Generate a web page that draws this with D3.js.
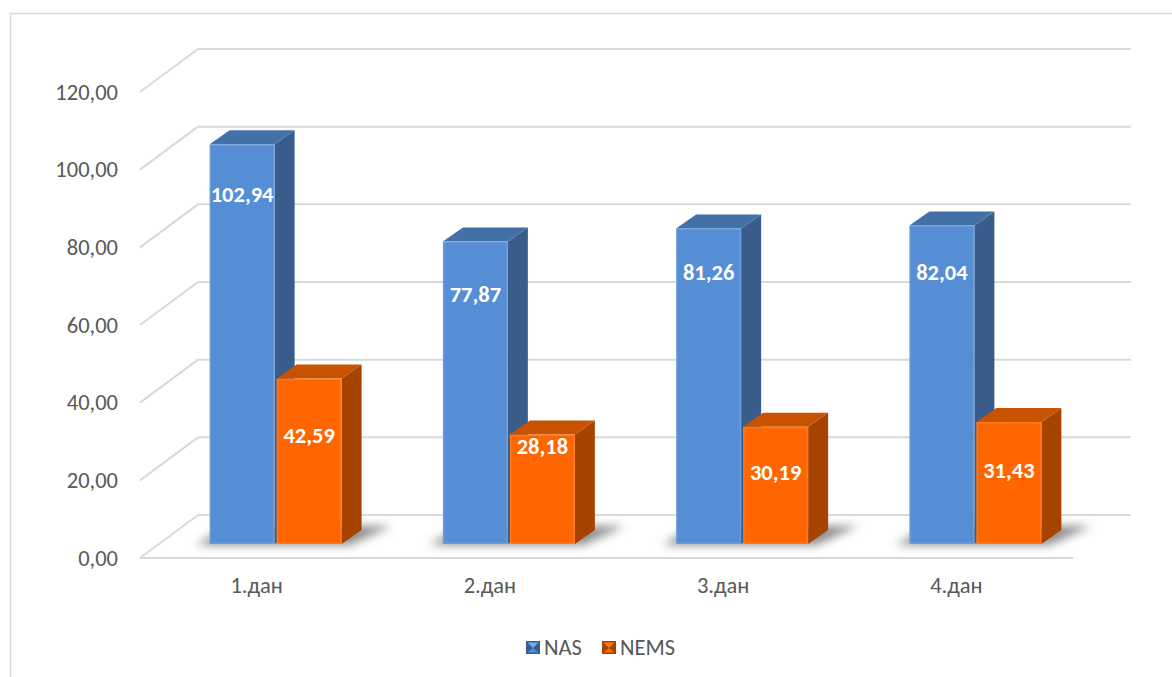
<!DOCTYPE html>
<html>
<head>
<meta charset="utf-8">
<script src="https://cdn.jsdelivr.net/npm/d3@7"></script>
<style>
  html, body { margin: 0; padding: 0; background: #fff; }
  svg { display: block; font-family: Calibri, Carlito, Lato, sans-serif; }
</style>
</head>
<body>
<svg id="chart" width="1172" height="677"></svg>
<script>
// ---- data ----
const categories = ["1.дан", "2.дан", "3.дан", "4.дан"];
const seriesNames = ["NAS", "NEMS"];
const nasValues  = [102.94, 77.87, 81.26, 82.04];
const nemsValues = [42.59, 28.18, 30.19, 31.43];
const yTicks = [0, 20, 40, 60, 80, 100, 120];

// ---- layout ----
const W = 1172, H = 677;
const fontFamily = "Calibri, Carlito, Lato, sans-serif";
const fontSize = 22.5;
const floorLeft = 140, floorRight = 1073;
const wallDepth = { dx: 58, dy: -43 };   // front edge -> back wall
const barPlane  = { dx: 19, dy: -14 };   // front edge -> bar front faces
const barDepth  = { dx: 20, dy: -14 };   // bar front face -> bar back face
const barW = 65, barGap = 2;
// vertical nudge of each value label below the bar's front top edge
const labelDrop = [[50, 57], [53, 12], [44, 46], [47, 49]];

const colors = {
  NAS:  { front: "#558ed5", side: "#385d8a", top: "#4470a8" },
  NEMS: { front: "#ff6600", side: "#a64300", top: "#c85200" }
};
const gridColor = "#d9d9d9";
const textColor = "#595959";

const svg = d3.select("#chart");
const fmt = d3.formatLocale({ decimal: ",", thousands: ".", grouping: [3], currency: ["", ""] }).format(".2f");

// chart area border
svg.append("rect")
  .attr("x", 10.5).attr("y", 13.5)
  .attr("width", W + 20).attr("height", H + 20)
  .attr("fill", "#fff").attr("stroke", gridColor).attr("stroke-width", 1.5);

// scales
const y = d3.scaleLinear().domain([0, 120]).range([558, 92]);
const x = d3.scaleBand().domain(categories).range([floorLeft, floorRight]);
const pairW = 2 * barW + barGap;
const xs = d3.scaleBand().domain(seriesNames).range([0, pairW]).paddingInner(barGap / (barW + barGap));
const pairLeft = c => x(c) + (x.bandwidth() - pairW) / 2 + barPlane.dx;

// ---- walls & floor ----
const walls = svg.append("g").attr("fill", "none").attr("stroke", gridColor).attr("stroke-width", 2);
yTicks.forEach(v => {
  const yf = y(v), yb = y(v) + wallDepth.dy;
  // side wall diagonal
  walls.append("line")
    .attr("x1", floorLeft).attr("y1", yf)
    .attr("x2", floorLeft + wallDepth.dx).attr("y2", yb);
  // back wall line
  walls.append("line")
    .attr("x1", floorLeft + wallDepth.dx).attr("y1", yb)
    .attr("x2", floorRight + wallDepth.dx).attr("y2", yb);
});
// floor front edge
walls.append("line")
  .attr("x1", floorLeft).attr("y1", y(0))
  .attr("x2", floorRight).attr("y2", y(0));

// ---- y axis labels ----
const yAxis = d3.axisLeft(y).tickValues(yTicks).tickFormat(fmt).tickSize(0).tickPadding(22);
svg.append("g")
  .attr("transform", `translate(${floorLeft},0)`)
  .call(yAxis)
  .call(g => g.select(".domain").remove())
  .call(g => g.selectAll("text")
    .attr("fill", textColor).attr("font-size", fontSize)
    .attr("font-family", fontFamily));

// ---- x axis labels ----
const xAxis = d3.axisBottom(x).tickSize(0).tickPadding(19);
svg.append("g")
  .attr("transform", `translate(0,${y(0)})`)
  .call(xAxis)
  .call(g => g.select(".domain").remove())
  .call(g => g.selectAll("text")
    .attr("fill", textColor).attr("font-size", fontSize)
    .attr("font-family", fontFamily));

// ---- shadows on the floor ----
const defs = svg.append("defs");
defs.append("filter").attr("id", "shadowBlur")
  .attr("x", "-50%").attr("y", "-50%").attr("width", "200%").attr("height", "200%")
  .append("feGaussianBlur").attr("stdDeviation", 5);

const base = y(0) + barPlane.dy;  // bar bottom on the front face
const shadows = svg.append("g").attr("filter", "url(#shadowBlur)");
categories.forEach(c => {
  const left = pairLeft(c) + xs("NAS");
  const right = pairLeft(c) + xs("NEMS") + barW;
  shadows.append("path")
    .attr("d", d3.line()([
      [left - 14, base + 1],
      [right + 8, base + 1],
      [right + barDepth.dx + 30, base + barDepth.dy - 4],
      [left + barDepth.dx, base + barDepth.dy - 4]
    ]) + "Z")
    .attr("fill", "#000").attr("opacity", 0.45);
});

// ---- 3D bars ----
const barsG = svg.append("g");
const seriesData = { NAS: nasValues, NEMS: nemsValues };

categories.forEach((c, ci) => {
  seriesNames.forEach((s, si) => {
    const v = seriesData[s][ci];
    const x0 = pairLeft(c) + xs(s);
    const x1 = x0 + barW;
    const yt = y(v) + barPlane.dy;
    const dx = barDepth.dx, dy = barDepth.dy;
    const col = colors[s];
    const g = barsG.append("g");
    // side face
    g.append("path")
      .attr("d", d3.line()([[x1, yt], [x1 + dx, yt + dy], [x1 + dx, base + dy], [x1, base]]) + "Z")
      .attr("fill", col.side);
    // top face
    g.append("path")
      .attr("d", d3.line()([[x0, yt], [x0 + dx, yt + dy], [x1 + dx, yt + dy], [x1, yt]]) + "Z")
      .attr("fill", col.top);
    // front face
    g.append("rect")
      .attr("x", x0).attr("y", yt)
      .attr("width", barW).attr("height", base - yt)
      .attr("fill", col.front);
    // subtle bevel highlight on the front face edges
    g.append("rect")
      .attr("x", x0 + 0.75).attr("y", yt + 0.75)
      .attr("width", barW - 1.5).attr("height", base - yt - 1.5)
      .attr("fill", "none").attr("stroke", "#fff").attr("stroke-opacity", 0.12).attr("stroke-width", 1.5);
    // value label
    g.append("text")
      .attr("x", (x0 + x1) / 2)
      .attr("y", yt + labelDrop[ci][si])
      .attr("text-anchor", "middle")
      .attr("dominant-baseline", "central")
      .attr("fill", "#fff")
      .attr("font-weight", "bold")
      .attr("font-size", fontSize)
      .text(fmt(v));
  });
});

// ---- legend ----
const legend = svg.append("g");
const legendItems = [
  { name: "NAS", x: 526 },
  { name: "NEMS", x: 602 }
];
legendItems.forEach(item => {
  const col = colors[item.name];
  const g = legend.append("g").attr("transform", `translate(${item.x},641)`);
  g.append("rect").attr("width", 14).attr("height", 13).attr("fill", col.side);
  g.append("path")
    .attr("d", "M1.5,1.5 L12.5,1.5 L7,7 Z")
    .attr("fill", d3.color(col.front).brighter(0.6));
  g.append("path")
    .attr("d", "M1.5,11.5 L12.5,11.5 L7,7 Z")
    .attr("fill", col.front);
  g.append("text")
    .attr("x", 18).attr("y", 6.5)
    .attr("dominant-baseline", "central")
    .attr("fill", textColor).attr("font-size", fontSize)
    .text(item.name);
});
</script>
</body>
</html>
